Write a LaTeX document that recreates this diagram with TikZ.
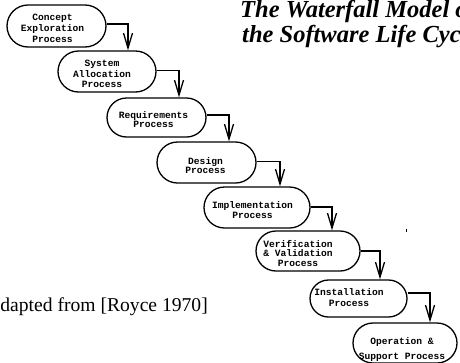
\documentclass[tikz,border=0pt]{standalone}
\usepackage{fontspec}
\usetikzlibrary{arrows.meta,shapes.misc}
\newfontfamily\stagefont{Liberation Mono}
\newfontfamily\captionface{Liberation Serif}
\begin{document}
\begin{tikzpicture}[x=1pt,y=-1pt,
  stage/.style={rounded rectangle, draw, line width=1.3pt, inner sep=0pt},
  stagetext/.style={align=center, inner sep=0pt,
    font=\stagefont\bfseries\fontsize{9.6pt}{#1}\selectfont},
  stagetext/.default=10pt,
  flow/.style={draw, line width=1.3pt, -{Straight Barb[length=15pt,width=9pt]}},
  titletext/.style={inner sep=0pt, anchor=base west,
    font=\captionface\bfseries\itshape\fontsize{24.5pt}{25pt}\selectfont}]
\useasboundingbox (0,0) rectangle (460,362);
\clip (0,0) rectangle (460,362);

% process stages, stepping down to the right
\node[stage, minimum width=99pt,  minimum height=42pt] (s1) at (56.5,26)    {};
\node[stage, minimum width=98pt,  minimum height=41pt] (s2) at (107,71.5)   {};
\node[stage, minimum width=99pt,  minimum height=39pt] (s3) at (156.5,117.5){};
\node[stage, minimum width=99pt,  minimum height=41pt] (s4) at (206.5,162.5){};
\node[stage, minimum width=106pt, minimum height=41pt] (s5) at (257,207.5)  {};
\node[stage, minimum width=104pt, minimum height=40pt] (s6) at (308,251)    {};
\node[stage, minimum width=97pt,  minimum height=37pt] (s7) at (358.5,298.5){};
\node[stage, minimum width=104pt, minimum height=40pt] (s8) at (405,343)    {};

% stage labels
\node[stagetext=11pt]  (t1) at (52.5,28.5)  {Concept\\Exploration\\Process};
\node[stagetext=10.5pt](t2) at (102,74)     {System\\Allocation\\Process};
\node[stagetext=9pt]   (t3) at (153.5,119.5){Requirements\\Process};
\node[stagetext=9pt]   (t4) at (205.5,166)  {Design\\Process};
\node[stagetext=10pt]  (t5) at (252.5,210.5){Implementation\\Process};
\node[stagetext=9.5pt] (t6) at (298,253)    {Verification\\\& Validation\\Process};
\node[stagetext=11pt]  (t7) at (349,298)    {Installation\\Process};
\node[stagetext=15pt]  (t8) at (402,350)    {Operation \&\\Support Process};

% flow from each stage into the next
\draw[flow] ([yshift=2pt]s1.east)   -| ([xshift=21pt]s2.north);
\draw[flow] ([yshift=1pt]s2.east)   -| ([xshift=22.5pt]s3.north);
\draw[flow] ([yshift=2.5pt]s3.east) -| ([xshift=22.5pt]s4.north);
\draw[flow] ([yshift=1pt]s4.east)   -| ([xshift=23pt]s5.north);
\draw[flow] ([yshift=0.5pt]s5.east) -| ([xshift=24pt]s6.north);
\draw[flow] (s6.east)               -| ([xshift=21.5pt]s7.north);
\draw[flow] ([yshift=5.5pt]s7.east) -| ([xshift=25pt]s8.north);

% small stray stroke
\draw[line width=0.8pt] (406,229) -- (406,232);

% title and source
\node[titletext] (title1) at (240,17.5) {The Waterfall Model of};
\node[titletext] (title2) at (242,42.5) {the Software Life Cycle};
\node[inner sep=0pt, anchor=base east,
      font=\captionface\fontsize{19.6pt}{21pt}\selectfont] (source) at (208,311)
      {adapted from [Royce 1970]};
\end{tikzpicture}
\end{document}
